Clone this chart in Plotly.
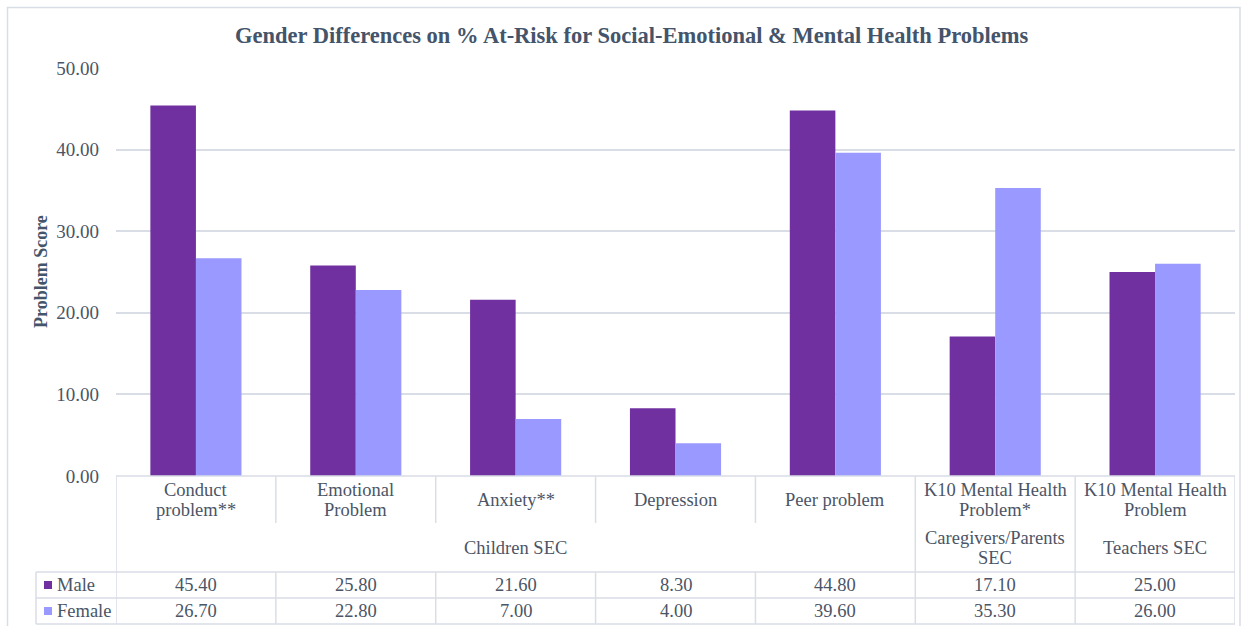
import plotly.graph_objects as go

# Categories and series values
categories = [
    "Conduct<br>problem**",
    "Emotional<br>Problem",
    "Anxiety**",
    "Depression",
    "Peer problem",
    "K10 Mental Health<br>Problem*",
    "K10 Mental Health<br>Problem",
]
groups = ["Children SEC", "Caregivers/Parents<br>SEC", "Teachers SEC"]
group_spans = [(0, 4), (5, 5), (6, 6)]
male = [45.40, 25.80, 21.60, 8.30, 44.80, 17.10, 25.00]
female = [26.70, 22.80, 7.00, 4.00, 39.60, 35.30, 26.00]
series = [("Male", male, "#7030A0"), ("Female", female, "#9999FF")]
y_ticks = [0, 10, 20, 30, 40, 50]

W, H = 1248, 626
L, R, T, B = 116, 13, 68, 150
PW, PH = W - L - R, H - T - B

FONT = "'Times New Roman', 'Liberation Serif', 'DejaVu Serif', serif"
TXT = "#4B5566"
DARK = "#44546A"
LINE = "#D9DEE6"
FS = 18.5
LINE_GAP = 20.5


def px(p):
    return (p - L) / PW


def py(p):
    return (H - B - p) / PH


def label(x, y, text, xref="x", size=FS, color=TXT, xanchor="center", **kw):
    return dict(x=x, y=y, xref=xref, yref="paper", text=text, showarrow=False,
                xanchor=xanchor, yanchor="middle", align="center",
                font=dict(family=FONT, size=size, color=color), **kw)


def block(x, y_mid, text):
    # multi-line cell text with tight line spacing, centred on y_mid (pixels)
    lines = text.split("<br>")
    start = y_mid - LINE_GAP * (len(lines) - 1) / 2
    return [label(x, py(start + k * LINE_GAP), ln) for k, ln in enumerate(lines)]


fig = go.Figure()
for name, vals, col in series:
    fig.add_trace(go.Bar(x=list(range(len(categories))), y=vals, name=name,
                         marker=dict(color=col, line=dict(width=0))))

shapes = []
ann = []

# Outer chart border
shapes.append(dict(type="rect", xref="paper", yref="paper", x0=px(7.5), x1=px(1240),
                   y0=py(640), y1=py(7.5), line=dict(color=LINE, width=1.5)))

# Data table grid
row_cat_bot, row_grp_bot, row_m_bot, row_f_bot = 523, 572, 598, 624
n = len(categories)
shapes.append(dict(type="line", xref="x", yref="paper", x0=-0.5, x1=n - 0.5,
                   y0=py(476), y1=py(476), line=dict(color=LINE, width=1.5)))
for yy in (row_grp_bot, row_m_bot, row_f_bot):
    shapes.append(dict(type="line", xref="paper", yref="paper", x0=px(36), x1=1,
                       y0=py(yy), y1=py(yy), line=dict(color=LINE, width=1.5)))
group_edges = set()
for a, b in group_spans:
    group_edges.add(a - 0.5)
    group_edges.add(b + 0.5)
for i in range(n + 1):
    xb = i - 0.5
    top_end = row_grp_bot if xb in group_edges else row_cat_bot
    shapes.append(dict(type="line", xref="x", yref="paper", x0=xb, x1=xb,
                       y0=py(476), y1=py(top_end), line=dict(color=LINE, width=1.5)))
    shapes.append(dict(type="line", xref="x", yref="paper", x0=xb, x1=xb,
                       y0=py(row_grp_bot), y1=py(row_f_bot), line=dict(color=LINE, width=1.5)))
shapes.append(dict(type="line", xref="paper", yref="paper", x0=px(36), x1=px(36),
                   y0=py(row_grp_bot), y1=py(row_f_bot), line=dict(color=LINE, width=1.5)))

# Category labels
for i, c in enumerate(categories):
    ann.extend(block(i, 500, c))
# Group labels
for g, (a, b) in zip(groups, group_spans):
    ann.extend(block((a + b) / 2, 548, g))

# Value rows with legend keys
for (name, vals, col), yy in zip(series, (585, 611)):
    for i, v in enumerate(vals):
        ann.append(label(i, py(yy), f"{v:.2f}"))
    shapes.append(dict(type="rect", xref="paper", yref="paper", x0=px(44), x1=px(52),
                       y0=py(yy + 4), y1=py(yy - 4), fillcolor=col, line=dict(width=0)))
    ann.append(label(px(55), py(yy), name, xref="paper", xanchor="left"))

# Title and axis title
ann.append(label(px(632), py(35),
                 "<b>Gender Differences on % At-Risk for Social-Emotional & Mental Health Problems</b>",
                 xref="paper", size=22.5, color=DARK))
ann.append(label(px(41), py(272), "<b>Problem Score</b>", xref="paper", size=18,
                 color=DARK, textangle=-90))

fig.update_layout(
    width=W, height=H,
    margin=dict(l=L, r=R, t=T, b=B),
    paper_bgcolor="white", plot_bgcolor="white",
    barmode="group", bargap=0.43, bargroupgap=0,
    showlegend=False,
    shapes=shapes, annotations=ann,
    xaxis=dict(range=[-0.5, n - 0.5], showticklabels=False, showgrid=False,
               zeroline=False, showline=False, ticks=""),
    yaxis=dict(range=[0, 50], tickvals=y_ticks, tickformat=".2f", showgrid=True,
               gridcolor=LINE, gridwidth=1.5, zeroline=False, showline=False,
               ticks="", ticklabelstandoff=16,
               tickfont=dict(family=FONT, size=19, color=TXT)),
)

fig.write_html("out.html")
